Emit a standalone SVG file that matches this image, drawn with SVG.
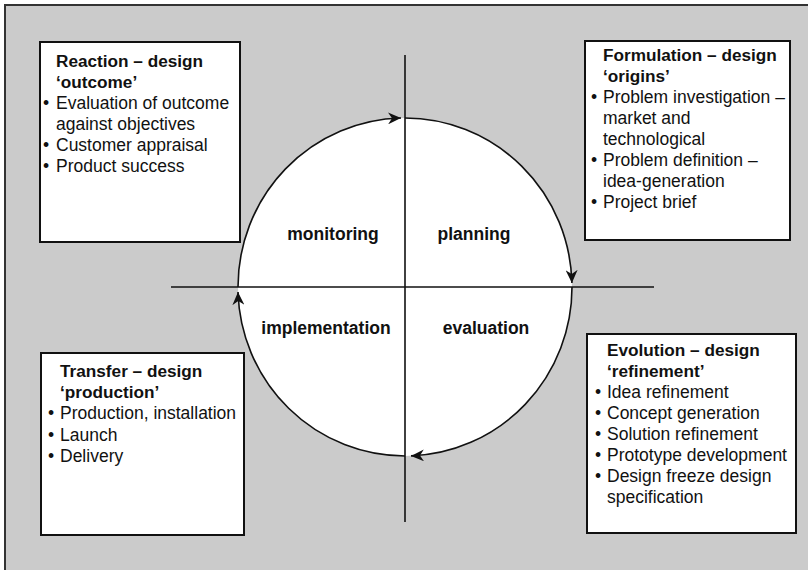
<svg xmlns="http://www.w3.org/2000/svg" width="808" height="570" viewBox="0 0 808 570">
<defs>
<style>
.bg{fill:#cbcbcb;stroke:#333;stroke-width:2}
.box{fill:#fff;stroke:#111;stroke-width:2}
.ln{fill:none;stroke:#111;stroke-width:1.6}
.t{font-family:"Liberation Sans",Arial,sans-serif;font-size:17.5px;fill:#111}
.b{font-weight:bold;font-size:17.2px}
.q{font-family:"Liberation Sans",Arial,sans-serif;font-size:17.5px;font-weight:bold;fill:#111;text-anchor:middle}
.bu{text-anchor:middle}
</style>
<marker id="ah" markerUnits="userSpaceOnUse" markerWidth="16" markerHeight="12" refX="13" refY="6" orient="auto">
<path d="M0,0 L13,6 L0,12 L4,6 Z" fill="#111"/>
</marker>
</defs>
<rect class="bg" x="5" y="5" width="810" height="570"/>
<g id="connectors">
<ellipse cx="405" cy="287" rx="167" ry="169" fill="#fff" stroke="none"/>
<path class="ln" d="M238,287 A167,169 0 0 1 401,118" marker-end="url(#ah)"/>
<path class="ln" d="M405,118 A167,169 0 0 1 571.9,283" marker-end="url(#ah)"/>
<path class="ln" d="M572,287 A167,169 0 0 1 411,455.9" marker-end="url(#ah)"/>
<path class="ln" d="M405,456 A167,169 0 0 1 238,292" marker-end="url(#ah)"/>
<line class="ln" x1="171" y1="287" x2="654" y2="287"/>
<line class="ln" x1="405" y1="55" x2="405" y2="522"/>
</g>
<g id="quadrants">
<text class="q" x="333" y="240">monitoring</text>
<text class="q" x="474" y="240">planning</text>
<text class="q" x="326" y="334">implementation</text>
<text class="q" x="486" y="334">evaluation</text>
</g>
<g id="reaction">
<rect class="box" x="40" y="42" width="200" height="200"/>
<text class="t b" x="56" y="67">Reaction – design</text>
<text class="t b" x="56" y="88">‘outcome’</text>
<text class="t bu" x="46" y="109">•</text>
<text class="t" x="56" y="109">Evaluation of outcome</text>
<text class="t" x="56" y="130">against objectives</text>
<text class="t bu" x="46" y="151">•</text>
<text class="t" x="56" y="151">Customer appraisal</text>
<text class="t bu" x="46" y="172">•</text>
<text class="t" x="56" y="172">Product success</text>
</g>
<g id="formulation">
<rect class="box" x="585" y="41" width="205" height="199"/>
<text class="t b" x="603" y="61">Formulation – design</text>
<text class="t b" x="603" y="82">‘origins’</text>
<text class="t bu" x="594" y="103">•</text>
<text class="t" x="603" y="103">Problem investigation –</text>
<text class="t" x="603" y="124">market and</text>
<text class="t" x="603" y="145">technological</text>
<text class="t bu" x="594" y="166">•</text>
<text class="t" x="603" y="166">Problem definition –</text>
<text class="t" x="603" y="187">idea-generation</text>
<text class="t bu" x="594" y="208">•</text>
<text class="t" x="603" y="208">Project brief</text>
</g>
<g id="transfer">
<rect class="box" x="41" y="353" width="203" height="182"/>
<text class="t b" x="60" y="377">Transfer – design</text>
<text class="t b" x="60" y="398">‘production’</text>
<text class="t bu" x="51" y="419">•</text>
<text class="t" x="60" y="419">Production, installation</text>
<text class="t bu" x="51" y="441">•</text>
<text class="t" x="60" y="441">Launch</text>
<text class="t bu" x="51" y="462">•</text>
<text class="t" x="60" y="462">Delivery</text>
</g>
<g id="evolution">
<rect class="box" x="587" y="334" width="209" height="199"/>
<text class="t b" x="607" y="356">Evolution – design</text>
<text class="t b" x="607" y="377">‘refinement’</text>
<text class="t bu" x="598" y="398">•</text>
<text class="t" x="607" y="398">Idea refinement</text>
<text class="t bu" x="598" y="419">•</text>
<text class="t" x="607" y="419">Concept generation</text>
<text class="t bu" x="598" y="440">•</text>
<text class="t" x="607" y="440">Solution refinement</text>
<text class="t bu" x="598" y="461">•</text>
<text class="t" x="607" y="461">Prototype development</text>
<text class="t bu" x="598" y="482">•</text>
<text class="t" x="607" y="482">Design freeze design</text>
<text class="t" x="607" y="503">specification</text>
</g>
</svg>
